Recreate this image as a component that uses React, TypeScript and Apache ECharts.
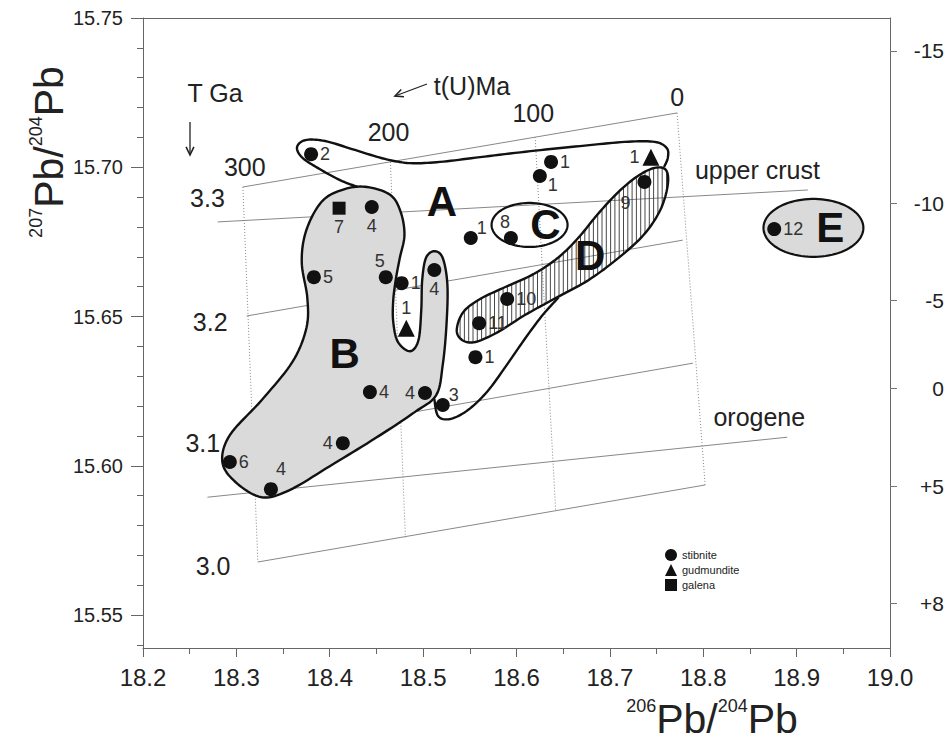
import React, { useEffect, useRef } from "react";
import * as echarts from "echarts";

// ---------------- data (axis units: 206Pb/204Pb , 207Pb/204Pb) ----------------
const xMin = 18.2;
const xMax = 19.0;
const yMin = 15.539;
const yMax = 15.75;
const yMajorTicks = [15.55, 15.6, 15.65, 15.7, 15.75];
const yMinorTicks = [15.54, 15.56, 15.57, 15.58, 15.59, 15.61, 15.62, 15.63, 15.64, 15.66, 15.67, 15.68, 15.69, 15.71, 15.72, 15.73, 15.74];
const rightTickValues = [15.739, 15.688, 15.6555, 15.626, 15.5932, 15.554];
const rightTickLabels = ["-15", "-10", "-5", "0", "+5", "+8"];

// stibnite samples
const stibX = [18.380, 18.637, 18.625, 18.737, 18.551, 18.594, 18.445, 18.383, 18.460, 18.477, 18.512, 18.590, 18.560, 18.556, 18.443, 18.502, 18.521, 18.414, 18.293, 18.337, 18.876];
const stibY = [15.7044, 15.7018, 15.6971, 15.6951, 15.6763, 15.6763, 15.6867, 15.6632, 15.6632, 15.6612, 15.6656, 15.6559, 15.6478, 15.6364, 15.6247, 15.6244, 15.6204, 15.6076, 15.6013, 15.5922, 15.6793];
const stibLabels = ["2", "1", "1", "9", "1", "8", "4", "5", "5", "1", "4", "10", "11", "1", "4", "4", "3", "4", "6", "4", "12"];
const stibPlace = ["r", "r", "br", "bl", "tr", "tl", "b", "r", "tl", "r", "b", "r", "r", "r", "r", "l", "tr", "l", "r", "trh", "r"];

// gudmundite samples
const gudX = [18.744, 18.482];
const gudY = [15.7034, 15.6461];
const gudLabels = ["1", "1"];
const gudPlace = ["l", "t"];

// galena samples
const galX = [18.410];
const galY = [15.6863];
const galLabels = ["7"];
const galPlace = ["b"];

// model grid: t(U) Ma lines (dotted)
const ageNames = ["300", "200", "100", "0"];
const ageTopX = [18.307, 18.465, 18.620, 18.772];
const ageTopY = [15.6934, 15.7018, 15.7101, 15.7182];
const ageBotX = [18.323, 18.481, 18.642, 18.802];
const ageBotY = [15.5678, 15.5761, 15.5848, 15.5936];
const ageLabelX = [18.309, 18.463, 18.618, 18.772];
const ageLabelY = [15.7001, 15.7118, 15.7182, 15.7235];

// model grid: T Ga lines and growth curves (solid)
const tLineX1 = [18.307, 18.280, 18.311, 18.318, 18.269, 18.323];
const tLineY1 = [15.6934, 15.6817, 15.6502, 15.6086, 15.5895, 15.5678];
const tLineX2 = [18.772, 18.912, 18.778, 18.789, 18.890, 18.802];
const tLineY2 = [15.7182, 15.6924, 15.6756, 15.6344, 15.6096, 15.5936];
const tNames = ["3.3", "3.2", "3.1", "3.0"];
const tLabelX = [18.269, 18.272, 18.264, 18.275];
const tLabelY = [15.6897, 15.6482, 15.6076, 15.5664];
const curveNames = ["upper crust", "orogene"];
const curveLabelX = [18.858, 18.860];
const curveLabelY = [15.6991, 15.6163];

// field outlines
const fieldBX = [18.440, 18.465, 18.476, 18.480, 18.475, 18.471, 18.468, 18.468, 18.473, 18.486, 18.495, 18.498, 18.499, 18.503, 18.512, 18.521, 18.526, 18.525, 18.521, 18.514, 18.491, 18.449, 18.400, 18.357, 18.327, 18.299, 18.285, 18.293, 18.327, 18.360, 18.375, 18.376, 18.370, 18.375, 18.392, 18.416];
const fieldBY = [15.6934, 15.6907, 15.6850, 15.6773, 15.6696, 15.6629, 15.6555, 15.6482, 15.6415, 15.6384, 15.6421, 15.6522, 15.6622, 15.6696, 15.6719, 15.6696, 15.6606, 15.6472, 15.6338, 15.6237, 15.6180, 15.6093, 15.5999, 15.5919, 15.5895, 15.5946, 15.6013, 15.6103, 15.6220, 15.6348, 15.6462, 15.6562, 15.6683, 15.6790, 15.6887, 15.6927];
const fieldA1X = [18.430, 18.411, 18.387, 18.370, 18.365, 18.374, 18.395, 18.427, 18.459, 18.486, 18.518, 18.561, 18.615, 18.668, 18.716, 18.748, 18.761, 18.762, 18.758];
const fieldA1Y = [15.6934, 15.6957, 15.6998, 15.7034, 15.7068, 15.7091, 15.7088, 15.7058, 15.7028, 15.7014, 15.7018, 15.7034, 15.7054, 15.7071, 15.7085, 15.7085, 15.7064, 15.7031, 15.7001];
const fieldA2X = [18.645, 18.628, 18.610, 18.590, 18.569, 18.548, 18.529, 18.516, 18.512];
const fieldA2Y = [15.6564, 15.6505, 15.6430, 15.6340, 15.6250, 15.6187, 15.6157, 15.6167, 15.6224];
const fieldDX = [18.536, 18.543, 18.561, 18.588, 18.618, 18.644, 18.666, 18.687, 18.709, 18.730, 18.748, 18.760, 18.762, 18.754, 18.736, 18.709, 18.677, 18.642, 18.609, 18.580, 18.556, 18.542];
const fieldDY = [15.6455, 15.6515, 15.6559, 15.6599, 15.6642, 15.6696, 15.6763, 15.6843, 15.6917, 15.6971, 15.6998, 15.6991, 15.6941, 15.6857, 15.6773, 15.6696, 15.6622, 15.6562, 15.6505, 15.6448, 15.6415, 15.6421];
const fieldCCenter = [18.614, 15.6807];
const fieldCRadius = [0.0407, 0.00737];
const fieldECenter = [18.918, 15.6797];
const fieldERadius = [0.0535, 0.0097];
const fieldNames = ["A", "B", "C", "D", "E"];
const fieldLabelX = [18.520, 18.416, 18.631, 18.679, 18.936];
const fieldLabelY = [15.6884, 15.6378, 15.6807, 15.6706, 15.6797];

// ---------------- helpers ----------------
const FONT = "'Liberation Sans', Arial, Helvetica, sans-serif";
const NARROW = "'Liberation Sans Narrow', 'Liberation Sans', Arial, sans-serif";
const LINE = "#111";
const GRIDC = "#888";
const LABELC = "#333";
const ANNOT = 25;

function spline(pts: number[][], closed: boolean, seg = 10): number[][] {
  const n = pts.length;
  const out: number[][] = [];
  const get = (i: number) => (closed ? pts[((i % n) + n) % n] : pts[Math.max(0, Math.min(n - 1, i))]);
  const last = closed ? n : n - 1;
  for (let i = 0; i < last; i++) {
    const p0 = get(i - 1), p1 = get(i), p2 = get(i + 1), p3 = get(i + 2);
    for (let s = 0; s < seg; s++) {
      const t = s / seg, t2 = t * t, t3 = t2 * t;
      const f = (k: number) =>
        0.5 * (2 * p1[k] + (-p0[k] + p2[k]) * t + (2 * p0[k] - 5 * p1[k] + 4 * p2[k] - p3[k]) * t2 + (-p0[k] + 3 * p1[k] - 3 * p2[k] + p3[k]) * t3);
      out.push([f(0), f(1)]);
    }
  }
  if (!closed) out.push(pts[n - 1]);
  return out;
}

function hatchLines(poly: number[][], step: number) {
  const xs = poly.map((p) => p[0]);
  const minX = Math.min(...xs), maxX = Math.max(...xs);
  const res: any[] = [];
  const n = poly.length;
  for (let x = Math.ceil(minX / step) * step; x <= maxX; x += step) {
    const ys: number[] = [];
    for (let i = 0; i < n; i++) {
      const a = poly[i], b = poly[(i + 1) % n];
      if ((a[0] <= x && b[0] > x) || (b[0] <= x && a[0] > x)) {
        const t = (x - a[0]) / (b[0] - a[0]);
        ys.push(a[1] + t * (b[1] - a[1]));
      }
    }
    ys.sort((p, q) => p - q);
    for (let k = 0; k + 1 < ys.length; k += 2) {
      res.push({ type: "line", shape: { x1: x, y1: ys[k], x2: x, y2: ys[k + 1] }, style: { stroke: "#333", lineWidth: 0.9 } });
    }
  }
  return res;
}

const labelBase = { show: true, fontSize: 18, color: LABELC, fontFamily: FONT };
const placeCfg: Record<string, any> = {
  r: { position: "right", distance: 2 },
  l: { position: "left", distance: 3 },
  t: { position: "top", distance: 3 },
  b: { position: "bottom", distance: 3 },
  tl: { position: "inside", offset: [-6, -16] },
  tr: { position: "inside", offset: [11, -10] },
  br: { position: "inside", offset: [13, 9] },
  bl: { position: "inside", offset: [-19, 21] },
  trh: { position: "inside", offset: [10, -20] },
};

function points(xs: number[], ys: number[], labels: string[], places: string[]) {
  return xs.map((x, i) => ({
    name: labels[i],
    value: [x, ys[i]],
    label: { ...labelBase, formatter: labels[i], ...placeCfg[places[i]] },
  }));
}

function textEl(x: number, y: number, text: string, size: number, extra: any = {}) {
  return {
    type: "text",
    x,
    y,
    style: {
      text,
      fill: "#222",
      fontSize: size,
      fontFamily: FONT,
      align: "center",
      verticalAlign: "middle",
      textAlign: "center",
      textVerticalAlign: "middle",
      ...extra,
    },
  };
}

function arrowHead(x1: number, y1: number, x2: number, y2: number, len: number) {
  const a = Math.atan2(y2 - y1, x2 - x1);
  const s = 0.45;
  return [
    [x2 - len * Math.cos(a - s), y2 - len * Math.sin(a - s)],
    [x2, y2],
    [x2 - len * Math.cos(a + s), y2 - len * Math.sin(a + s)],
  ];
}

export default function App() {
  const ref = useRef<HTMLDivElement>(null);

  useEffect(() => {
    document.body.style.margin = "0";
    const chart = echarts.init(ref.current!, undefined, { renderer: "svg" });

    const renderItem = (_params: any, api: any) => {
      const c = (x: number, y: number) => api.coord([x, y]);
      const ch: any[] = [];
      for (let i = 0; i < ageTopX.length; i++) {
        const p = c(ageTopX[i], ageTopY[i]);
        const q = c(ageBotX[i], ageBotY[i]);
        ch.push({ type: "line", shape: { x1: p[0], y1: p[1], x2: q[0], y2: q[1] }, style: { stroke: GRIDC, lineWidth: 1, lineDash: [1, 2] } });
      }
      for (let i = 0; i < tLineX1.length; i++) {
        const p = c(tLineX1[i], tLineY1[i]);
        const q = c(tLineX2[i], tLineY2[i]);
        ch.push({ type: "line", shape: { x1: p[0], y1: p[1], x2: q[0], y2: q[1] }, style: { stroke: GRIDC, lineWidth: 1 } });
      }
      const ellipse = (ctr: number[], rad: number[]) => {
        const p = c(ctr[0], ctr[1]);
        const sz = api.size([rad[0], rad[1]]);
        const pts: number[][] = [];
        for (let k = 0; k < 90; k++) {
          const a = (k / 90) * Math.PI * 2;
          pts.push([p[0] + sz[0] * Math.cos(a), p[1] + sz[1] * Math.sin(a)]);
        }
        return pts;
      };
      ch.push({ type: "polygon", shape: { points: ellipse(fieldECenter, fieldERadius) }, style: { fill: "#dadada", stroke: LINE, lineWidth: 2.2 } });
      const bPts = spline(fieldBX.map((x, i) => c(x, fieldBY[i])), true);
      ch.push({ type: "polygon", shape: { points: bPts }, style: { fill: "#dadada", stroke: LINE, lineWidth: 2.4 } });
      ch.push({ type: "polygon", shape: { points: ellipse(fieldCCenter, fieldCRadius) }, style: { fill: "none", stroke: LINE, lineWidth: 2.2 } });
      const dPts = spline(fieldDX.map((x, i) => c(x, fieldDY[i])), true);
      ch.push(...hatchLines(dPts, 4.3));
      ch.push({ type: "polygon", shape: { points: dPts }, style: { fill: "none", stroke: LINE, lineWidth: 2.4 } });
      const a1 = spline(fieldA1X.map((x, i) => c(x, fieldA1Y[i])), false);
      const a2 = spline(fieldA2X.map((x, i) => c(x, fieldA2Y[i])), false);
      ch.push({ type: "polyline", shape: { points: a1 }, style: { fill: "none", stroke: LINE, lineWidth: 2.4 } });
      ch.push({ type: "polyline", shape: { points: a2 }, style: { fill: "none", stroke: LINE, lineWidth: 2.4 } });
      for (let i = 0; i < ageNames.length; i++) {
        const p = c(ageLabelX[i], ageLabelY[i]);
        ch.push(textEl(p[0], p[1], ageNames[i], ANNOT));
      }
      for (let i = 0; i < tNames.length; i++) {
        const p = c(tLabelX[i], tLabelY[i]);
        ch.push(textEl(p[0], p[1], tNames[i], ANNOT));
      }
      for (let i = 0; i < curveNames.length; i++) {
        const p = c(curveLabelX[i], curveLabelY[i]);
        ch.push(textEl(p[0], p[1], curveNames[i], ANNOT));
      }
      for (let i = 0; i < fieldNames.length; i++) {
        const p = c(fieldLabelX[i], fieldLabelY[i]);
        ch.push(textEl(p[0], p[1], fieldNames[i], 42, { fontWeight: "bold", fill: "#111" }));
      }
      return { type: "group", children: ch };
    };

    const scatterBase = {
      type: "scatter",
      z: 5,
      itemStyle: { color: "#111", opacity: 1 },
      emphasis: { disabled: true },
      label: labelBase,
    };

    const tHead = arrowHead(190, 122, 190, 155, 9);
    const uHead = arrowHead(427, 84, 395, 96, 9);
    const titleRich = {
      s: { fontSize: 18, fontFamily: NARROW, verticalAlign: "top", lineHeight: 42, fill: "#222" },
      b: { fontSize: 41, fontFamily: NARROW, verticalAlign: "bottom", lineHeight: 42, fill: "#222" },
    };
    const annotStyle = { fill: "#222", fontSize: ANNOT, fontFamily: FONT, align: "center", verticalAlign: "middle", textAlign: "center", textVerticalAlign: "middle" };

    chart.setOption({
      animation: false,
      backgroundColor: "#ffffff",
      grid: { left: 143, right: 61, top: 18, bottom: 96, show: false },
      legend: {
        orient: "vertical",
        left: 660,
        top: 544,
        itemWidth: 12,
        itemHeight: 12,
        itemGap: 3,
        selectedMode: false,
        textStyle: { fontSize: 11, color: "#222", fontFamily: FONT },
        data: [
          { name: "stibnite", icon: "circle" },
          { name: "gudmundite", icon: "triangle" },
          { name: "galena", icon: "rect" },
        ],
      },
      xAxis: [
        {
          type: "value",
          min: xMin,
          max: xMax,
          interval: 0.1,
          position: "bottom",
          axisLine: { show: true, onZero: false, lineStyle: { color: "#666", width: 1 } },
          axisTick: { show: true, length: 9, lineStyle: { color: "#666" } },
          minorTick: { show: true, splitNumber: 2, length: 6, lineStyle: { color: "#666" } },
          splitLine: { show: false },
          minorSplitLine: { show: false },
          axisLabel: { fontSize: 24, color: "#222", margin: 17, fontFamily: NARROW, formatter: (v: number) => v.toFixed(1) },
        },
        {
          type: "value",
          min: xMin,
          max: xMax,
          position: "top",
          axisLine: { show: true, onZero: false, lineStyle: { color: "#666", width: 1 } },
          axisTick: { show: false },
          axisLabel: { show: false },
          splitLine: { show: false },
        },
      ],
      yAxis: [
        {
          type: "value",
          min: yMin,
          max: yMax,
          position: "left",
          axisLine: { show: true, onZero: false, lineStyle: { color: "#666", width: 1 } },
          axisTick: { show: true, length: 12, customValues: yMajorTicks, lineStyle: { color: "#666" } },
          axisLabel: { customValues: yMajorTicks, fontSize: 20, color: "#222", margin: 20, fontFamily: FONT, formatter: (v: number) => v.toFixed(2) },
          splitLine: { show: false },
        },
        {
          type: "value",
          min: yMin,
          max: yMax,
          position: "left",
          axisLine: { show: false },
          axisTick: { show: true, length: 6, customValues: yMinorTicks, lineStyle: { color: "#666" } },
          axisLabel: { show: false },
          splitLine: { show: false },
        },
        {
          type: "value",
          min: yMin,
          max: yMax,
          position: "right",
          axisLine: { show: true, onZero: false, lineStyle: { color: "#666", width: 1 } },
          axisTick: { show: true, length: 7, customValues: rightTickValues, lineStyle: { color: "#777" } },
          axisLabel: {
            customValues: rightTickValues,
            fontSize: 21,
            color: "#222",
            margin: 54,
            align: "right",
            fontFamily: FONT,
            formatter: (v: number) => {
              const i = rightTickValues.findIndex((r) => Math.abs(r - v) < 1e-6);
              return i >= 0 ? rightTickLabels[i] : "";
            },
          },
          splitLine: { show: false },
        },
      ],
      graphic: [
        { type: "text", x: 215, y: 93, style: { ...annotStyle, text: "T Ga" } },
        { type: "line", shape: { x1: 190, y1: 122, x2: 190, y2: 155 }, style: { stroke: "#222", lineWidth: 1.3 } },
        { type: "polyline", shape: { points: tHead }, style: { stroke: "#222", lineWidth: 1.6, fill: "none" } },
        { type: "text", x: 472, y: 86, style: { ...annotStyle, text: "t(U)Ma" } },
        { type: "line", shape: { x1: 427, y1: 84, x2: 395, y2: 96 }, style: { stroke: "#222", lineWidth: 1.3 } },
        { type: "polyline", shape: { points: uHead }, style: { stroke: "#222", lineWidth: 1.6, fill: "none" } },
        {
          type: "text",
          x: 712,
          y: 718,
          style: {
            text: "{s|206}{b|Pb/}{s|204}{b|Pb}",
            fill: "#222",
            align: "center",
            verticalAlign: "middle",
            textAlign: "center",
            textVerticalAlign: "middle",
            rich: titleRich,
          },
        },
        {
          type: "text",
          x: 48,
          y: 152,
          rotation: Math.PI / 2,
          style: {
            text: "{s|207}{b|Pb/}{s|204}{b|Pb}",
            fill: "#222",
            align: "center",
            verticalAlign: "middle",
            textAlign: "center",
            textVerticalAlign: "middle",
            rich: titleRich,
          },
        },
      ],
      series: [
        {
          type: "custom",
          coordinateSystem: "cartesian2d",
          silent: true,
          z: 1,
          data: [[18.6, 15.64]],
          renderItem,
        },
        { ...scatterBase, name: "stibnite", symbol: "circle", symbolSize: 14, data: points(stibX, stibY, stibLabels, stibPlace) },
        { ...scatterBase, name: "gudmundite", symbol: "triangle", symbolSize: 17, data: points(gudX, gudY, gudLabels, gudPlace) },
        { ...scatterBase, name: "galena", symbol: "rect", symbolSize: 13, data: points(galX, galY, galLabels, galPlace) },
      ],
    });

    return () => chart.dispose();
  }, []);

  return <div ref={ref} style={{ width: 951, height: 744 }} />;
}
